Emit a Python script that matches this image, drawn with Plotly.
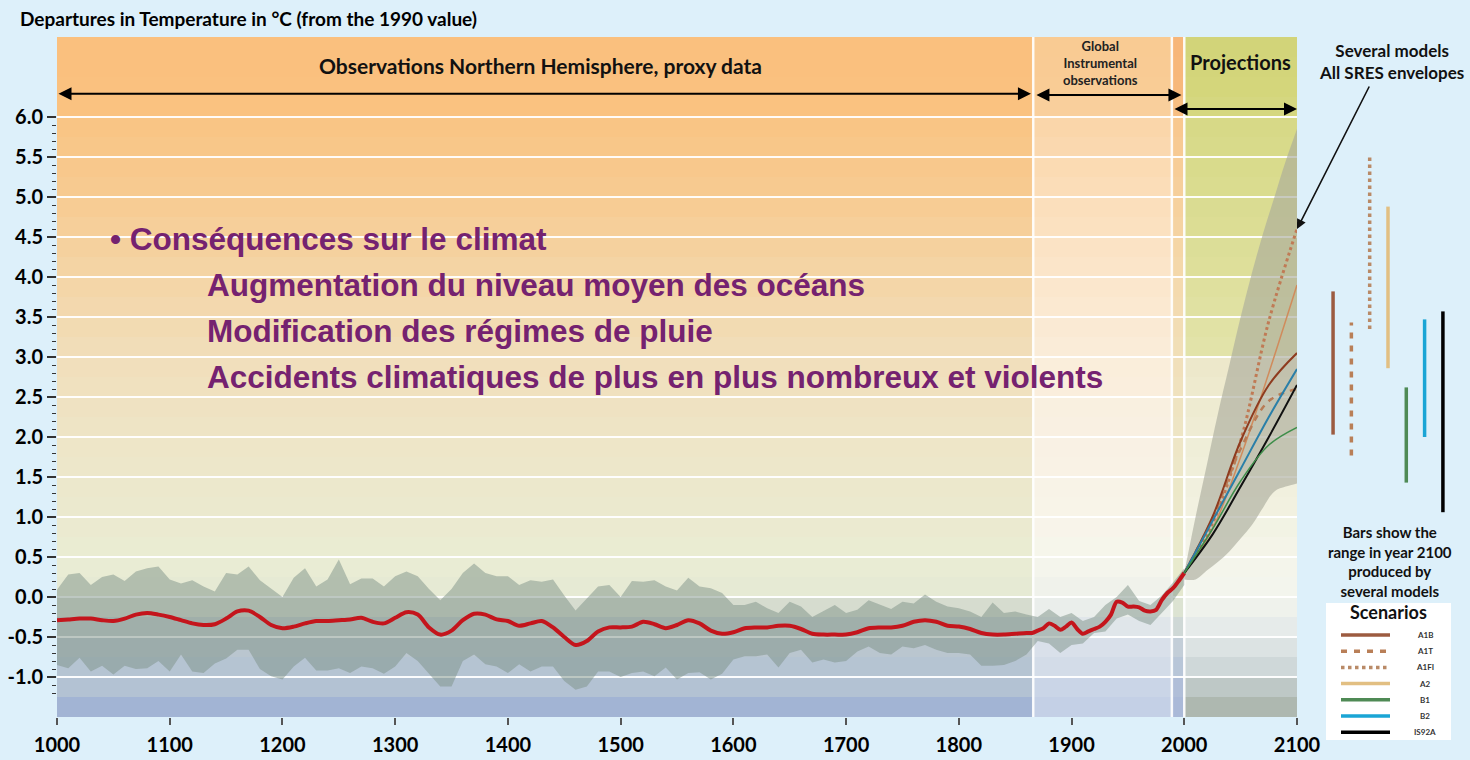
import numpy as np
import plotly.graph_objects as go

# ---------------- data ----------------
proxy_years = list(range(1000, 1860, 10))
proxy_smooth = [
    -0.29, -0.28, -0.27, -0.27, -0.29, -0.30, -0.27, -0.22, -0.20, -0.22,
    -0.25, -0.29, -0.33, -0.35, -0.34, -0.27, -0.18, -0.17, -0.25, -0.35,
    -0.39, -0.37, -0.33, -0.30, -0.30, -0.29, -0.28, -0.26, -0.31, -0.33,
    -0.26, -0.19, -0.22, -0.38, -0.47, -0.42, -0.29, -0.21, -0.22, -0.28,
    -0.30, -0.36, -0.33, -0.30, -0.38, -0.50, -0.60, -0.55, -0.43, -0.38,
    -0.38, -0.37, -0.31, -0.34, -0.39, -0.35, -0.29, -0.33, -0.42, -0.46,
    -0.44, -0.39, -0.38, -0.38, -0.36, -0.36, -0.40, -0.46, -0.47, -0.47,
    -0.47, -0.44, -0.39, -0.38, -0.38, -0.36, -0.31, -0.29, -0.31, -0.36,
    -0.37, -0.40, -0.45, -0.47, -0.47, -0.46,
]
instr_years = list(range(1860, 2001, 5))
instr_smooth = [
    -0.45, -0.45, -0.42, -0.39, -0.33, -0.36, -0.41, -0.37, -0.32, -0.40,
    -0.46, -0.43, -0.40, -0.37, -0.31, -0.22, -0.06, -0.07, -0.12, -0.12,
    -0.13, -0.17, -0.18, -0.16, -0.04, 0.05, 0.11, 0.20, 0.30,
]

band_years = list(range(1000, 2001, 10))
band_upper = [
    0.09, 0.28, 0.30, 0.15, 0.25, 0.28, 0.20, 0.32, 0.36, 0.38,
    0.22, 0.17, 0.21, 0.13, 0.07, 0.30, 0.28, 0.38, 0.21, 0.11,
    0.00, 0.24, 0.36, 0.13, 0.22, 0.47, 0.16, 0.23, 0.23, 0.13,
    0.26, 0.32, 0.26, 0.10, -0.04, 0.10, 0.30, 0.42, 0.30, 0.26,
    0.26, 0.15, 0.21, 0.19, 0.22, 0.02, -0.17, -0.02, 0.13, 0.15,
    0.00, 0.20, 0.19, 0.21, 0.13, 0.08, 0.24, 0.13, 0.11, 0.05,
    -0.10, -0.10, -0.06, -0.14, -0.20, -0.06, -0.12, -0.25, -0.18, -0.10,
    -0.20, -0.16, -0.04, -0.10, -0.15, -0.06, -0.08, 0.03, -0.06, -0.12,
    -0.14, -0.18, -0.25, -0.07, -0.20, -0.18,
    -0.22, -0.25, -0.15, -0.25, -0.20, -0.30, -0.25, -0.10, 0.00, 0.15,
    -0.05, -0.10, 0.02, 0.18, 0.36,
]
band_lower = [
    -0.85, -0.89, -0.76, -0.93, -0.86, -0.97, -0.86, -0.90, -0.89, -0.80,
    -0.93, -0.72, -0.93, -0.95, -0.83, -0.77, -0.66, -0.66, -0.90, -0.99,
    -1.03, -0.87, -0.76, -0.92, -0.92, -0.89, -0.95, -0.87, -0.89, -0.96,
    -0.87, -0.70, -0.80, -0.96, -1.12, -1.12, -0.80, -0.72, -0.84, -0.87,
    -0.95, -0.84, -0.93, -0.87, -0.87, -1.05, -1.16, -1.12, -0.93, -0.93,
    -1.00, -0.95, -0.93, -0.99, -0.88, -1.03, -0.95, -0.94, -1.03, -0.96,
    -0.78, -0.74, -0.74, -0.72, -0.88, -0.70, -0.66, -0.82, -0.78, -0.82,
    -0.80, -0.68, -0.62, -0.70, -0.72, -0.62, -0.64, -0.60, -0.66, -0.70,
    -0.70, -0.72, -0.86, -0.86, -0.85, -0.80,
    -0.72, -0.55, -0.58, -0.70, -0.60, -0.58, -0.45, -0.43, -0.27, -0.22,
    -0.30, -0.35, -0.20, -0.05, 0.15,
]

env_years = list(range(2000, 2101, 10))
env_upper = [0.30, 1.00, 1.65, 2.30, 2.90, 3.50, 4.05, 4.55, 5.00, 5.45, 5.85]
env_lower = [0.22, 0.22, 0.33, 0.44, 0.57, 0.73, 0.90, 1.12, 1.32, 1.38, 1.42]

proj_years = [2000, 2025, 2050, 2075, 2100]
scenarios = ["A1B", "A1T", "A1FI", "A2", "B1", "B2", "IS92A"]
proj_values = {
    "A1FI": [0.30, 0.92, 1.95, 3.45, 4.60],
    "A2": [0.30, 0.85, 1.75, 2.80, 3.90],
    "A1T": [0.30, 0.98, 1.85, 2.45, 2.60],
    "A1B": [0.30, 1.00, 1.95, 2.65, 3.05],
    "B2": [0.30, 0.95, 1.60, 2.25, 2.85],
    "IS92A": [0.30, 0.78, 1.38, 2.00, 2.65],
    "B1": [0.30, 0.85, 1.45, 1.90, 2.12],
}
range_2100_low = [2.03, 1.77, 3.35, 2.86, 1.43, 2.00, 1.06]
range_2100_high = [3.82, 3.43, 5.50, 4.88, 2.62, 3.47, 3.57]

x_tick_vals = list(range(1000, 2101, 100))
y_tick_vals = [-1.0, -0.5, 0.0, 0.5, 1.0, 1.5, 2.0, 2.5, 3.0, 3.5, 4.0, 4.5, 5.0, 5.5, 6.0]
y_tick_text = [f"{v:.1f}" for v in y_tick_vals]

# ---------------- styles ----------------
PAPER = "#DDF0FA"
FONT = "Lato"
PURPLE = "#752270"
bar_style = {
    "A1B": dict(color="#9C5B40", dash="solid"),
    "A1T": dict(color="#B97F57", dash="6px,7px"),
    "A1FI": dict(color="#B98A67", dash="dot"),
    "A2": dict(color="#E2BF82", dash="solid"),
    "B1": dict(color="#4F8A55", dash="solid"),
    "B2": dict(color="#1AA5D5", dash="solid"),
    "IS92A": dict(color="#000000", dash="solid"),
}
curve_style = {
    "A1B": dict(color="#8E3B1F", dash="solid", width=2),
    "A1T": dict(color="#B87B55", dash="6px,6px", width=2.5),
    "A1FI": dict(color="#C07A55", dash="dot", width=3),
    "A2": dict(color="#D08B5C", dash="solid", width=1.5),
    "B1": dict(color="#3E8E4A", dash="solid", width=1.5),
    "B2": dict(color="#2A7FA8", dash="solid", width=2),
    "IS92A": dict(color="#111111", dash="solid", width=2),
}

# background colour stops for the four periods (value, colour)
columns = [
    (1000, 1866, [(7.0, "#FAC07E"), (6.2, "#FAC17F"), (6.0, "#F9C483"), (5.0, "#F7CB92"),
                  (4.0, "#F4D5A6"), (3.0, "#F1DEBA"), (2.0, "#EEE5C7"), (1.0, "#EBEACF"),
                  (0.25, "#E9EDD5"), (0.0, "#E3E8D3"), (-0.25, "#C8D0CB"), (-0.5, "#BCC8CE"),
                  (-1.0, "#B3C2D3"), (-1.24, "#B3C2D3"), (-1.26, "#A2B4D4"), (-1.5, "#A2B4D4")]),
    (1866, 1989, [(7.0, "#F9CB93"), (6.2, "#F9CC95"), (6.0, "#FAD5A8"), (5.0, "#FBDEBA"),
                  (4.0, "#FBE6CB"), (3.0, "#FAEDDA"), (2.0, "#F9F1E3"), (1.0, "#F8F4E9"),
                  (0.5, "#F6F6EC"), (0.0, "#EEF1EB"), (-0.5, "#DCE3EA"), (-1.0, "#D0D9E8"),
                  (-1.25, "#C5D1E6"), (-1.5, "#C2CEE5")]),
    (1989, 2000, [(7.0, "#F7B679"), (6.2, "#F7B87B"), (6.0, "#F8C78D"), (4.0, "#F4D9AC"),
                  (2.0, "#EEE6C6"), (0.5, "#EAEACC"), (0.0, "#E3E8D0"), (-0.5, "#C8D3D8"),
                  (-1.0, "#B3C1D8"), (-1.5, "#A7B6D8")]),
    (2000, 2100, [(7.0, "#D2D479"), (6.2, "#D4D67C"), (6.0, "#D7D986"), (5.0, "#DADC90"),
                  (4.0, "#DEDF9C"), (3.05, "#E2E3AA"), (2.95, "#EDE8CA"), (2.0, "#EFEDD6"),
                  (1.0, "#F2F2E2"), (0.5, "#F4F5EA"), (0.0, "#F3F5EE"), (-0.5, "#E2E8E8"),
                  (-1.0, "#C9D3D4"), (-1.25, "#B3BDB7"), (-1.5, "#A9B2A9")]),
]


def hex_rgb(h):
    h = h.lstrip("#")
    return tuple(int(h[i:i + 2], 16) for i in (0, 2, 4))


def color_at(stops, v):
    for (v0, c0), (v1, c1) in zip(stops[:-1], stops[1:]):
        if v1 <= v <= v0:
            t = (v0 - v) / (v0 - v1) if v0 != v1 else 0.0
            a, b = hex_rgb(c0), hex_rgb(c1)
            return "rgb(%d,%d,%d)" % tuple(round(a[i] + (b[i] - a[i]) * t) for i in range(3))
    return stops[-1][1]


# ---------------- geometry helpers ----------------
W, H = 1470, 760
ML, MR, MT, MB = 57, 0, 37, 43
PLOT_R = 1297
dom_split = (PLOT_R - ML) / (W - ML - MR)


def px_x(px):
    return (px - ML) / (W - ML - MR)


def px_y(py):
    return (H - MB - py) / (H - MT - MB)


Y_MIN, Y_MAX = -1.5, 7.0
shapes = []
edges = np.arange(Y_MIN, Y_MAX + 1e-9, 0.25)
for x0, x1, stops in columns:
    for lo, hi in zip(edges[:-1], edges[1:]):
        shapes.append(dict(type="rect", xref="x", yref="y", x0=x0, x1=x1, y0=lo, y1=hi,
                           fillcolor=color_at(stops, (lo + hi) / 2), line=dict(width=0),
                           layer="below"))
for xs in (1866, 1989, 2000):
    shapes.append(dict(type="line", xref="x", yref="y", x0=xs, x1=xs, y0=Y_MIN, y1=Y_MAX,
                       line=dict(color="rgba(255,255,255,0.9)", width=2.5), layer="below"))

# scenario key (white box with sample lines)
KEY_L, KEY_R, KEY_T, KEY_B = 1326, 1451, 603, 740
shapes.append(dict(type="rect", xref="paper", yref="paper", x0=px_x(KEY_L), x1=px_x(KEY_R),
                   y0=px_y(KEY_B), y1=px_y(KEY_T), fillcolor="white", line=dict(width=0),
                   layer="above"))
key_rows = [635 + 16.2 * i for i in range(len(scenarios))]
for name, ry in zip(scenarios, key_rows):
    st = bar_style[name]
    shapes.append(dict(type="line", xref="paper", yref="paper", x0=px_x(1341), x1=px_x(1390),
                       y0=px_y(ry), y1=px_y(ry), layer="above",
                       line=dict(color=st["color"], width=3.5, dash=st["dash"])))

fig = go.Figure()

# proxy / instrumental uncertainty band
fig.add_trace(go.Scatter(x=band_years, y=band_upper, mode="lines", line=dict(width=0),
                         showlegend=False, hoverinfo="skip"))
fig.add_trace(go.Scatter(x=band_years, y=band_lower, mode="lines", line=dict(width=0),
                         fill="tonexty", fillcolor="rgba(125,145,135,0.5)",
                         showlegend=False, hoverinfo="skip"))

# projection envelope
fig.add_trace(go.Scatter(x=env_years, y=env_upper, mode="lines", line=dict(width=0, shape="spline"),
                         showlegend=False, hoverinfo="skip"))
fig.add_trace(go.Scatter(x=env_years, y=env_lower, mode="lines", line=dict(width=0, shape="spline"),
                         fill="tonexty", fillcolor="rgba(168,170,155,0.62)",
                         showlegend=False, hoverinfo="skip"))

# smoothed record
fig.add_trace(go.Scatter(x=proxy_years + instr_years, y=proxy_smooth + instr_smooth, mode="lines",
                         line=dict(color="#C4151C", width=4, shape="spline", smoothing=0.8),
                         showlegend=False))

# scenario projections
for name in ["A1FI", "A2", "A1T", "A1B", "B2", "IS92A", "B1"]:
    st = curve_style[name]
    fig.add_trace(go.Scatter(x=proj_years, y=proj_values[name], mode="lines", name=name,
                             line=dict(color=st["color"], dash=st["dash"], width=st["width"],
                                       shape="spline"),
                             showlegend=False))

# bars: range in 2100
for name, lo, hi in zip(scenarios, range_2100_low, range_2100_high):
    st = bar_style[name]
    fig.add_trace(go.Scatter(x=[name, name], y=[lo, hi], mode="lines", name=name,
                             line=dict(color=st["color"], dash=st["dash"], width=3.5),
                             xaxis="x2", yaxis="y2", showlegend=False))

# ---------------- annotations ----------------
tickfont = dict(family=FONT, size=20, color="black", weight="bold")
annotations = [
    dict(text="<b>Departures in Temperature in °C (from the 1990 value)</b>", xref="paper", yref="paper",
         x=px_x(18), y=px_y(18), xanchor="left", yanchor="middle", showarrow=False,
         font=dict(family=FONT, size=19, color="black")),
    dict(text="<b>Observations Northern Hemisphere, proxy data</b>", x=1428.6, y=6.64,
         xanchor="center", showarrow=False, font=dict(family=FONT, size=21, color="#111")),
    dict(text="<b>Global<br>Instrumental<br>observations</b>", x=1925.5, y=6.675, xanchor="center",
         showarrow=False, font=dict(family=FONT, size=13, color="#222")),
    dict(text="<b>Projections</b>", x=2049.7, y=6.69, xanchor="center", showarrow=False,
         font=dict(family=FONT, size=20, color="#111")),
    dict(text="<b>Several models<br>All SRES envelopes</b>", xref="paper", yref="paper",
         x=px_x(1391), y=px_y(62), xanchor="center", yanchor="middle", showarrow=False,
         font=dict(family=FONT, size=17, color="#111")),
    dict(text="<b>Bars show the<br>range in year 2100<br>produced by<br>several models</b>",
         xref="paper", yref="paper", x=px_x(1390), y=px_y(561), xanchor="center", yanchor="middle",
         showarrow=False, font=dict(family=FONT, size=15, color="#111")),
    dict(text="<b>Scenarios</b>", xref="paper", yref="paper", x=px_x(1388), y=px_y(612),
         xanchor="center", yanchor="middle", showarrow=False,
         font=dict(family=FONT, size=18, color="#111")),
    # arrows
    dict(text="", x=1864, y=6.29, ax=1000, ay=6.29, axref="x", ayref="y", showarrow=True,
         arrowhead=2, arrowsize=1.3, arrowwidth=2, arrowcolor="black", arrowside="end+start",
         startarrowhead=2, startarrowsize=1.3),
    dict(text="", x=1997.5, y=6.275, ax=1867.5, ay=6.275, axref="x", ayref="y", showarrow=True,
         arrowhead=2, arrowsize=1.3, arrowwidth=2, arrowcolor="black", arrowside="end+start",
         startarrowhead=2, startarrowsize=1.3),
    dict(text="", x=2100, y=6.1, ax=1990, ay=6.1, axref="x", ayref="y", showarrow=True,
         arrowhead=2, arrowsize=1.3, arrowwidth=2, arrowcolor="black", arrowside="end+start",
         startarrowhead=2, startarrowsize=1.3),
    dict(text="", x=2100, y=4.6, ax=73, ay=-144, showarrow=True, arrowhead=2, arrowsize=1.2,
         arrowwidth=1.6, arrowcolor="#111"),
]
for name, ry in zip(scenarios, key_rows):
    annotations.append(dict(text=f"<b>{name}</b>", xref="paper", yref="paper", x=px_x(1425),
                            y=px_y(ry), xanchor="center", yanchor="middle", showarrow=False,
                            font=dict(family=FONT, size=8, color="#333")))

purple_lines = [
    ("• Conséquences sur le climat", 1045.3, 4.475),
    ("Augmentation du niveau moyen des océans", 1131.3, 3.9),
    ("Modification des régimes de pluie", 1131.3, 3.325),
    ("Accidents climatiques de plus en plus nombreux et violents", 1131.3, 2.75),
]
for txt, xx, yy in purple_lines:
    annotations.append(dict(text=f"<b>{txt}</b>", x=xx, y=yy, xanchor="left", yanchor="middle",
                            showarrow=False,
                            font=dict(family="Liberation Sans, Arial", size=31.5, color=PURPLE)))

minor_vals = [round(v, 1) for v in np.arange(-1.2, 6.01, 0.1)]

fig.update_layout(
    width=W, height=H,
    margin=dict(l=ML, r=MR, t=MT, b=MB, autoexpand=False),
    paper_bgcolor=PAPER, plot_bgcolor=PAPER,
    shapes=shapes, annotations=annotations,
    xaxis=dict(domain=[0, dom_split], range=[1000, 2100], tickmode="array", tickvals=x_tick_vals,
               ticks="outside", ticklen=7, tickwidth=1.5, tickcolor="#555", showgrid=False,
               zeroline=False, showline=False, tickfont=tickfont, anchor="y", automargin=False,
               ticklabelstandoff=3),
    yaxis=dict(domain=[0, 1], range=[Y_MIN, Y_MAX], tickmode="array", tickvals=y_tick_vals,
               ticktext=y_tick_text, ticks="outside", ticklen=9, tickwidth=1.5, tickcolor="#333",
               showgrid=True, gridcolor="rgba(255,255,255,0.95)", gridwidth=2, zeroline=False,
               showline=False, tickfont=tickfont, anchor="x", automargin=False,
               minor=dict(tickmode="array", tickvals=minor_vals, ticks="outside", ticklen=4,
                          tickwidth=1.2, tickcolor="#333", showgrid=False)),
    xaxis2=dict(domain=[dom_split, 1], anchor="y2", type="category", categoryorder="array",
                categoryarray=scenarios, range=[-1.97, 7.48], visible=False, automargin=False),
    yaxis2=dict(domain=[0, 1], anchor="x2", range=[Y_MIN, Y_MAX], visible=False, showgrid=False,
                automargin=False),
    showlegend=False,
)

fig.write_html("out.html", config={"displayModeBar": False},
               post_script="document.body.style.margin='0';document.body.style.overflow='hidden';")
